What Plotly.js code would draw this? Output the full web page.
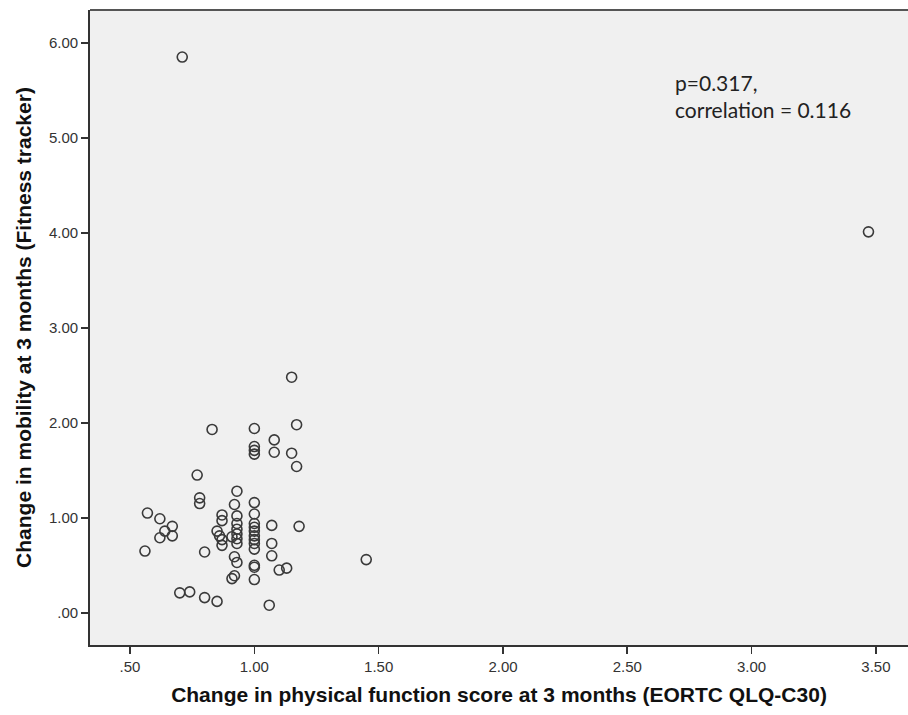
<!DOCTYPE html>
<html>
<head>
<meta charset="utf-8">
<script src="https://cdn.plot.ly/plotly-3.0.1.min.js"></script>
<style>
  html, body { margin: 0; padding: 0; background: #ffffff; }
  #chart { width: 908px; height: 715px; }
</style>
</head>
<body>
<div id="chart"></div>
<script>
// Change in physical function score (EORTC QLQ-C30) vs change in mobility (fitness tracker), 3 months
const physicalFunction = [
  0.71, 3.47, 1.45, 1.15, 0.83, 1.00, 1.17, 1.08, 1.00, 1.00,
  1.00, 1.08, 1.15, 1.17, 0.77, 0.78, 0.78, 0.93, 1.00, 0.92,
  0.57, 0.62, 0.67, 0.64, 0.67, 0.62, 0.56, 0.80, 0.87, 0.87,
  0.85, 0.86, 0.87, 0.87, 0.93, 0.93, 0.93, 0.93, 0.93, 0.93,
  0.91, 0.92, 0.93, 0.91, 0.92, 1.00, 1.00, 1.00, 1.00, 1.00,
  1.00, 1.00, 1.00, 1.00, 1.00, 1.00, 1.07, 1.18, 1.07, 1.07,
  1.10, 1.13, 0.70, 0.74, 0.80, 0.85, 1.06
];
const mobility = [
  5.85, 4.01, 0.56, 2.48, 1.93, 1.94, 1.98, 1.82, 1.75, 1.71,
  1.67, 1.69, 1.68, 1.54, 1.45, 1.21, 1.15, 1.28, 1.16, 1.14,
  1.05, 0.99, 0.91, 0.86, 0.81, 0.79, 0.65, 0.64, 1.03, 0.97,
  0.86, 0.81, 0.77, 0.71, 1.02, 0.94, 0.88, 0.83, 0.78, 0.73,
  0.80, 0.59, 0.53, 0.36, 0.39, 1.04, 0.94, 0.90, 0.86, 0.81,
  0.77, 0.73, 0.67, 0.50, 0.48, 0.35, 0.92, 0.91, 0.73, 0.60,
  0.45, 0.47, 0.21, 0.22, 0.16, 0.12, 0.08
];

const xTickVals = [0.5, 1.0, 1.5, 2.0, 2.5, 3.0, 3.5];
const xTickText = [".50", "1.00", "1.50", "2.00", "2.50", "3.00", "3.50"];
const yTickVals = [0, 1, 2, 3, 4, 5, 6];
const yTickText = [".00", "1.00", "2.00", "3.00", "4.00", "5.00", "6.00"];

const statsText = "p=0.317,<br>correlation = 0.116";

const trace = {
  type: "scatter",
  mode: "markers",
  x: physicalFunction,
  y: mobility,
  marker: {
    symbol: "circle-open",
    size: 10,
    color: "#3a3a3a",
    line: { width: 1.6, color: "#3a3a3a" }
  },
  hoverinfo: "x+y"
};

const axisFont = { family: "Liberation Sans, Arial, sans-serif", size: 15, color: "#333333" };
const titleFont = { family: "Liberation Sans, Arial, sans-serif", size: 21, color: "#111111", weight: "bold" };

const layout = {
  width: 908,
  height: 715,
  margin: { l: 90, r: 0, t: 10, b: 70 },
  paper_bgcolor: "#ffffff",
  plot_bgcolor: "#f0f0f0",
  showlegend: false,
  xaxis: {
    range: [0.339, 3.629],
    tickvals: xTickVals,
    ticktext: xTickText,
    ticks: "outside",
    ticklen: 7,
    tickwidth: 1.6,
    tickcolor: "#333333",
    showgrid: false,
    zeroline: false,
    showline: true,
    linecolor: "#333333",
    linewidth: 1.8,
    tickfont: axisFont,
    title: { text: "<b>Change in physical function score at 3 months (EORTC QLQ-C30)</b>", font: titleFont, standoff: 13 }
  },
  yaxis: {
    range: [-0.339, 6.345],
    tickvals: yTickVals,
    ticktext: yTickText,
    ticks: "outside",
    ticklen: 7,
    tickwidth: 1.6,
    tickcolor: "#333333",
    showgrid: false,
    zeroline: false,
    showline: true,
    linecolor: "#333333",
    linewidth: 1.8,
    tickfont: axisFont,
    title: { text: "<b>Change in mobility at 3 months (Fitness tracker)</b>", font: titleFont, standoff: 12 }
  },
  shapes: [
    {
      type: "line", xref: "paper", yref: "paper",
      x0: 0, x1: 1, y0: 1, y1: 1,
      line: { color: "#555555", width: 1.8 }
    }
  ],
  annotations: [
    {
      xref: "paper", yref: "paper",
      x: (673 - 90) / 818, y: (645 - 68) / 635,
      xanchor: "left", yanchor: "top",
      align: "left",
      showarrow: false,
      text: statsText,
      font: { family: "Lato, Open Sans, sans-serif", size: 21, color: "#222222" }
    }
  ]
};

Plotly.newPlot("chart", [trace], layout, { displayModeBar: false, staticPlot: true });
</script>
</body>
</html>
